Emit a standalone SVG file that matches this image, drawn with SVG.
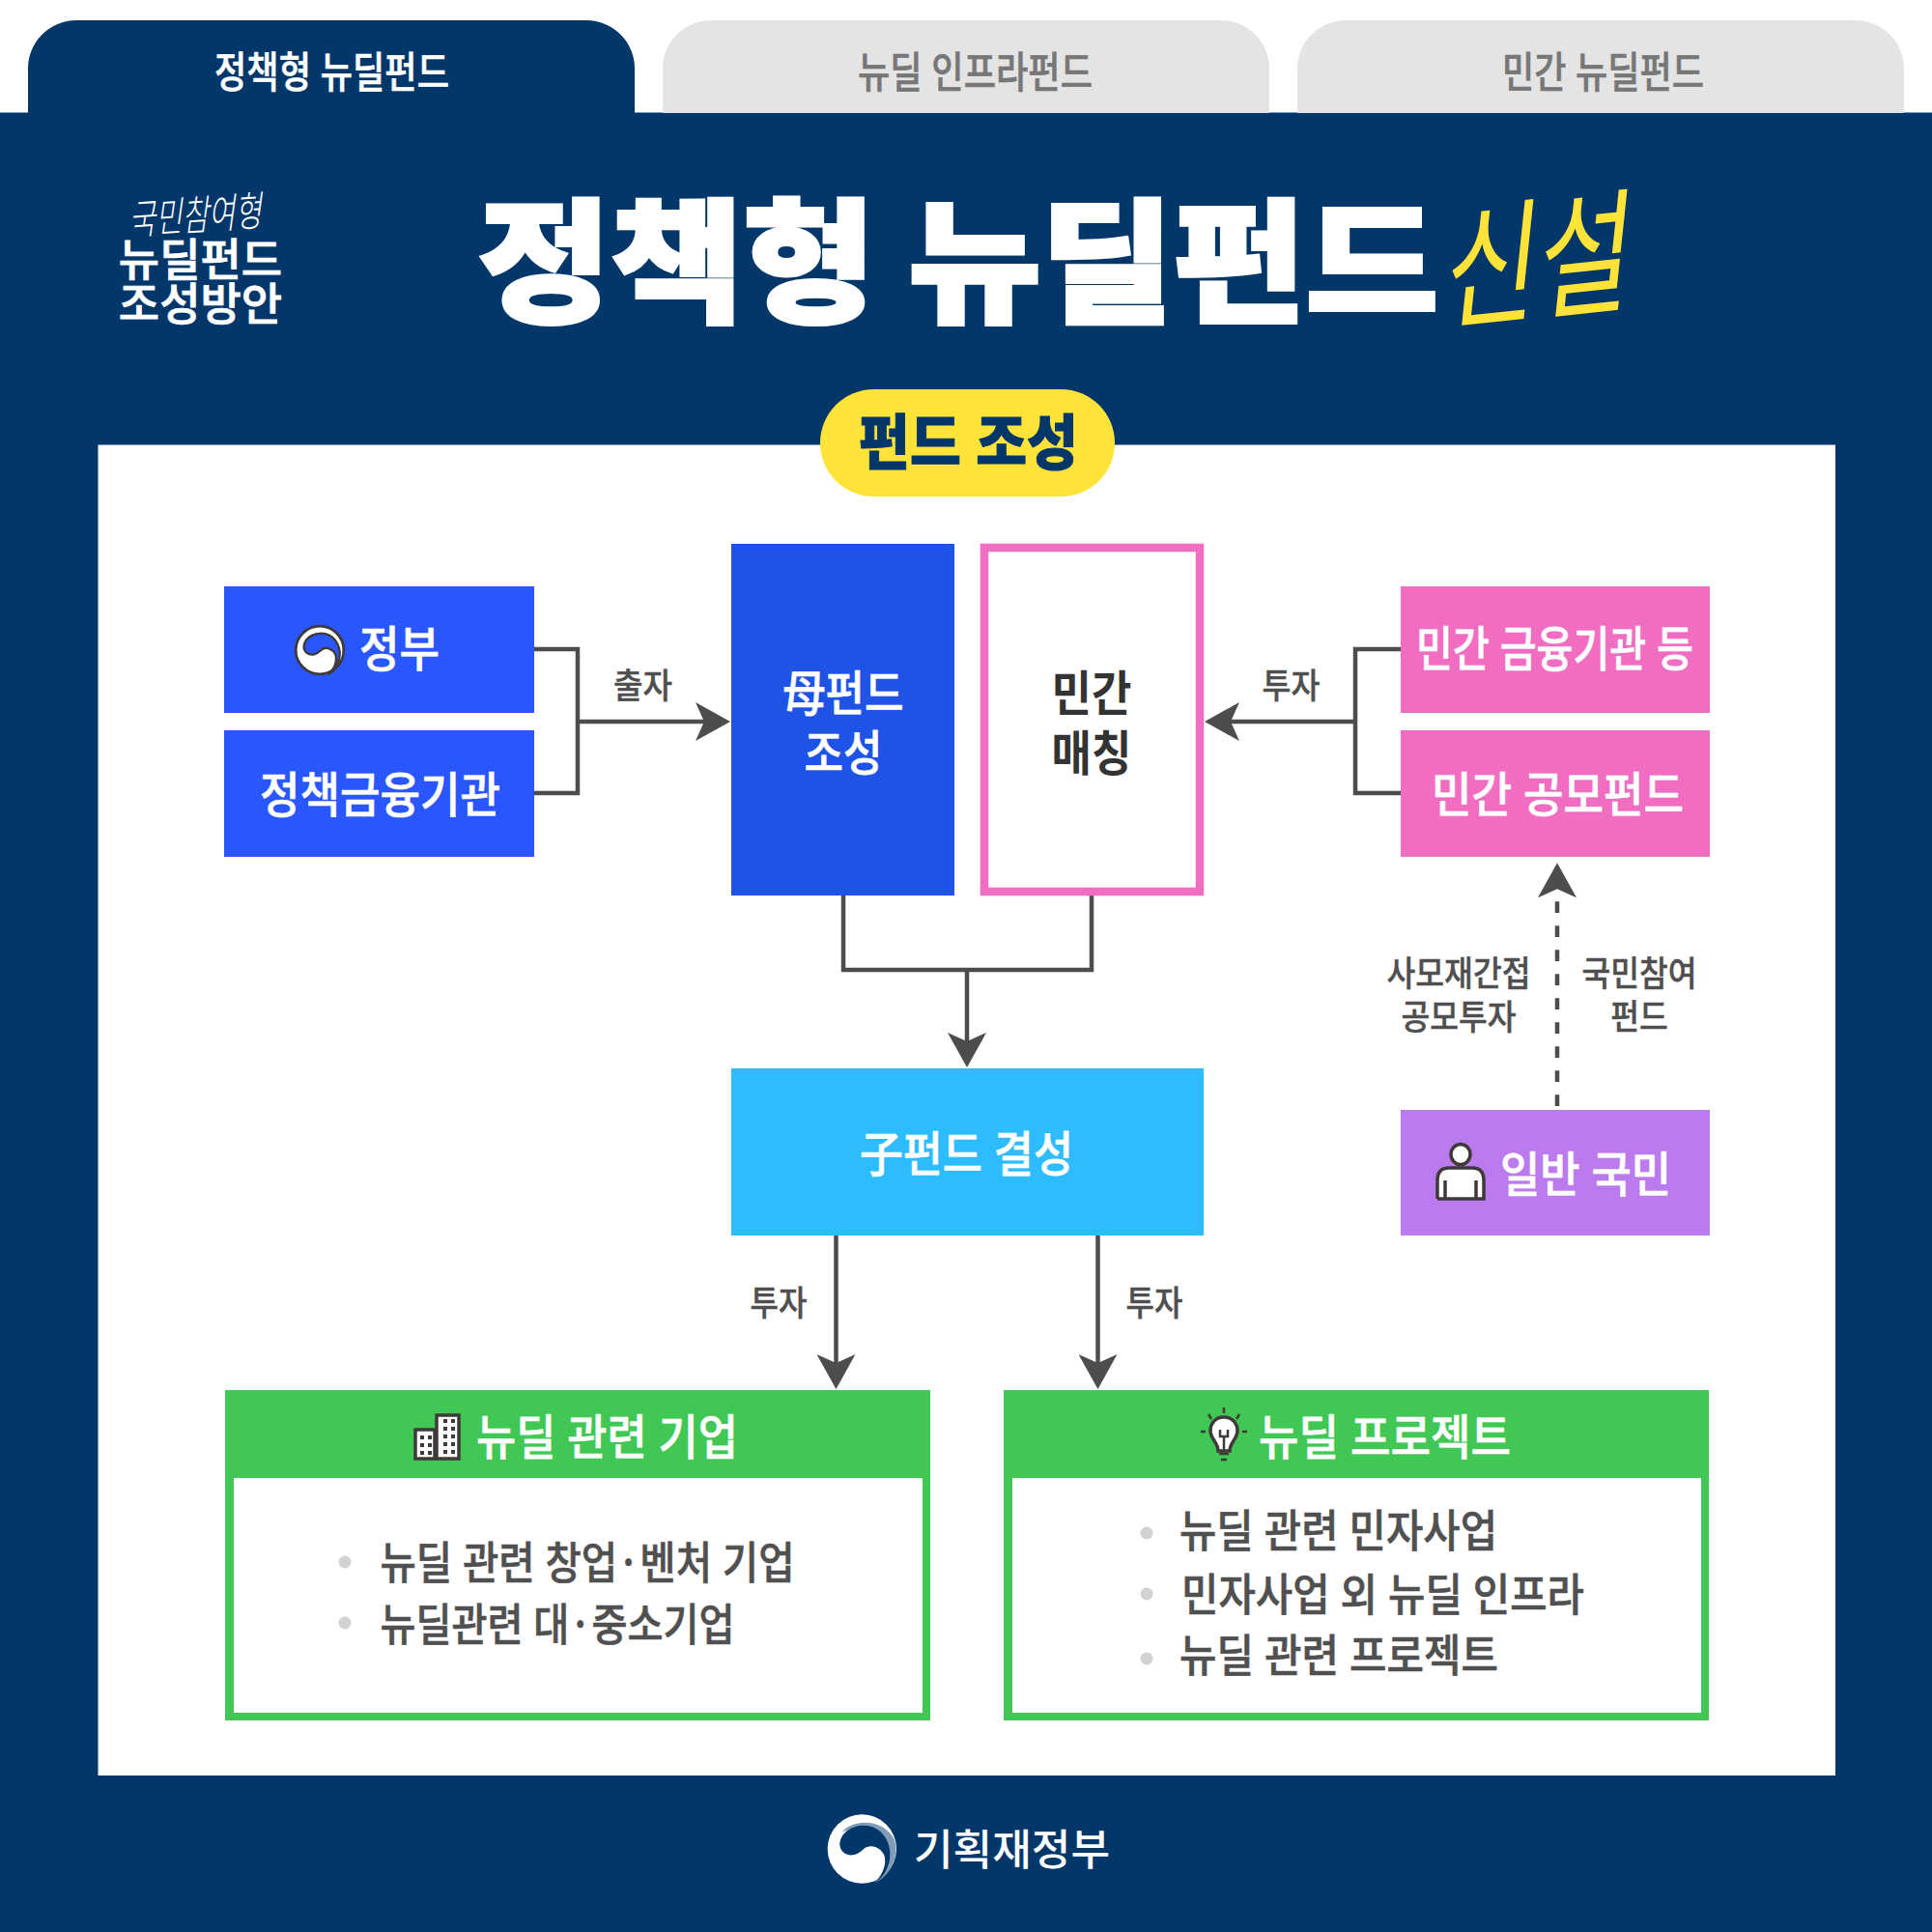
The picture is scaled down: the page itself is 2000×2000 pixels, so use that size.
<svg xmlns="http://www.w3.org/2000/svg" width="2000" height="2000" viewBox="0 0 2000 2000">
<style>
text{font-family:"Noto Sans CJK KR","Noto Sans",sans-serif;word-spacing:.04em}
.w{fill:#fff;stroke:#fff}
.lab{font-size:36px;font-weight:500;fill:#4f4f4f;stroke:#4f4f4f;stroke-width:.4}
.node{font-size:50px;font-weight:500;fill:#fff;stroke:#fff;stroke-width:.7}
.li{font-size:46px;font-weight:500;fill:#505050;stroke:#505050;stroke-width:.6}
.tab{font-size:44px;font-weight:500;stroke-width:.6}
.gt{fill:#777;stroke:#777}
.c{fill:none;stroke:#4d4d4d;stroke-width:4.5}
.dot{fill:#d2d2d2}
.ic{fill:#fff;stroke:#3f3a3a;stroke-width:3.5}
</style>
<defs>
<marker id="arrow" markerUnits="userSpaceOnUse" viewBox="0 0 36 40" refX="26" refY="20" markerWidth="36" markerHeight="40" orient="auto"><path d="M0 0L36 20L0 40L9 20Z" fill="#4d4d4d"/></marker>
<marker id="arrowGap" markerUnits="userSpaceOnUse" viewBox="0 0 36 40" refX="-4" refY="20" markerWidth="36" markerHeight="40" orient="auto"><path d="M0 0L36 20L0 40L9 20Z" fill="#4d4d4d"/></marker>
<path id="swirl" d="M148 178C150 135 200 110 245 122C290 135 310 185 303 225C297 260 278 285 255 298C280 275 292 245 288 218C282 190 245 172 222 192C205 210 180 218 162 205C152 197 148 188 148 178Z"/>
</defs>
<rect width="2000" height="2000" fill="#fff"/>
<rect id="background" y="116.500" width="2000" height="1883.500" fill="#03376a"/>
<g id="tab-policy"><path d="M29 117V72A50 50 0 0 1 79 21H607A50 50 0 0 1 657 72V117Z" fill="#03376a"/><text class="tab w" x="222" y="91" textLength="243" lengthAdjust="spacingAndGlyphs">정책형 뉴딜펀드</text></g>
<g id="tab-infra"><path d="M686 117V72A50 50 0 0 1 736 21H1264A50 50 0 0 1 1314 72V117Z" fill="#e4e4e4"/><text class="tab gt" x="888" y="91" textLength="243" lengthAdjust="spacingAndGlyphs">뉴딜 인프라펀드</text></g>
<g id="tab-private"><path d="M1343 117V72A50 50 0 0 1 1393 21H1921A50 50 0 0 1 1971 72V117Z" fill="#e4e4e4"/><text class="tab gt" x="1555" y="91" textLength="209" lengthAdjust="spacingAndGlyphs">민간 뉴딜펀드</text></g>
<g id="header">
<text transform="translate(134 243) rotate(-4) skewX(-12) scale(.88 1.25)" font-size="34" font-weight="300" fill="#fff">국민참여형</text>
<text transform="translate(207.500 0)" text-anchor="middle" font-size="46" font-weight="500" fill="#fff" stroke="#fff" stroke-width=".8"><tspan x="0" y="285">뉴딜펀드</tspan><tspan x="0" y="331">조성방안</tspan></text>
<text x="495" y="322" font-size="138" font-weight="900" fill="#fff" stroke="#fff" stroke-width="4" textLength="994" lengthAdjust="spacingAndGlyphs" style="word-spacing:0">정책형 뉴딜펀드</text>
<text transform="translate(1492 331) rotate(-6) skewX(-12) scale(.98 1.28)" font-size="108" font-weight="400" fill="#ffe338">신설</text>
</g>
<rect id="panel" x="101.500" y="460.500" width="1798.500" height="1377.500" fill="#fff"/>
<g id="badge"><rect x="849" y="403" width="305" height="111" rx="55.500" fill="#ffe338"/><text x="889" y="481" font-size="62" font-weight="900" fill="#03376a" stroke="#03376a" stroke-width="1" textLength="227" lengthAdjust="spacingAndGlyphs">펀드 조성</text></g>
<g id="connectors">
<path class="c" d="M553 672H598V821H553"/><path class="c" d="M598 747H746" marker-end="url(#arrow)"/>
<path class="c" d="M1450 672H1403V821H1450"/><path class="c" d="M1403 747H1257" marker-end="url(#arrow)"/>
<path class="c" d="M873 927V1004H1130V927"/><path class="c" d="M1001 1004V1095" marker-end="url(#arrow)"/>
<path class="c" d="M865.500 1279V1428" marker-end="url(#arrow)"/><path class="c" d="M1136.500 1279V1428" marker-end="url(#arrow)"/>
<path class="c" d="M1612 1145V933.300" stroke-dasharray="11.7 13.3" marker-end="url(#arrowGap)"/>
<text class="lab" x="635" y="723" textLength="61" lengthAdjust="spacingAndGlyphs">출자</text>
<text class="lab" x="1306.500" y="723" textLength="60" lengthAdjust="spacingAndGlyphs">투자</text>
<text class="lab" x="776.500" y="1362" textLength="59" lengthAdjust="spacingAndGlyphs">투자</text>
<text class="lab" x="1165.500" y="1362" textLength="59" lengthAdjust="spacingAndGlyphs">투자</text>
<text class="lab" text-anchor="middle" transform="translate(1510 0) scale(.9 1)"><tspan x="0" y="1021">사모재간접</tspan><tspan x="0" y="1066">공모투자</tspan></text>
<text class="lab" text-anchor="middle" transform="translate(1697 0) scale(.9 1)"><tspan x="0" y="1021">국민참여</tspan><tspan x="0" y="1066">펀드</tspan></text>
</g>
<g id="node-gov"><rect x="232" y="607" width="321" height="131" fill="#2a56ff"/>
<g transform="translate(331 673) scale(.276) translate(-217 -192)"><circle cx="217" cy="192" r="90" fill="#fff" stroke="#3f3a3a" stroke-width="10"/><use href="#swirl" fill="#2a56ff" stroke="#3f3a3a" stroke-width="10" transform="translate(217 192) scale(.86) translate(-217 -192)"/></g>
<text class="node" x="372" y="690" textLength="83" lengthAdjust="spacingAndGlyphs">정부</text></g>
<g id="node-policy-finance"><rect x="232" y="756" width="321" height="131" fill="#2a56ff"/><text class="node" x="269" y="841" textLength="249" lengthAdjust="spacingAndGlyphs">정책금융기관</text></g>
<g id="node-mother"><rect x="757" y="563" width="231" height="364" fill="#1f53e5"/><text class="node" text-anchor="middle" transform="translate(873 0) scale(.88 1)"><tspan x="0" y="736">母펀드</tspan><tspan x="0" y="798">조성</tspan></text></g>
<g id="node-matching"><rect x="1019" y="567" width="223" height="356" fill="#fff" stroke="#f06dc2" stroke-width="8.500"/><text text-anchor="middle" transform="translate(1130 0) scale(.9 1)" font-size="50" font-weight="700" fill="#333"><tspan x="0" y="736">민간</tspan><tspan x="0" y="798">매칭</tspan></text></g>
<g id="node-bank"><rect x="1450" y="607" width="320" height="131" fill="#f06dc2"/><text class="node" x="1466" y="690" textLength="287" lengthAdjust="spacingAndGlyphs">민간 금융기관 등</text></g>
<g id="node-public-fund"><rect x="1450" y="756" width="320" height="131" fill="#f06dc2"/><text class="node" x="1482" y="841" textLength="261" lengthAdjust="spacingAndGlyphs">민간 공모펀드</text></g>
<g id="node-citizen"><rect x="1450" y="1149" width="320" height="130" fill="#bb7aee"/>
<ellipse class="ic" cx="1512" cy="1195" rx="10" ry="10.500"/><path class="ic" d="M1488 1241V1222Q1488 1209 1500 1209H1524Q1536 1209 1536 1222V1241Z" style="stroke-dasharray:170 47"/><path class="ic" d="M1496 1222V1241M1528 1222V1241" fill="none"/>
<text class="node" x="1553" y="1234" textLength="177" lengthAdjust="spacingAndGlyphs">일반 국민</text></g>
<g id="node-child"><rect x="757" y="1106" width="489" height="173" fill="#2cbcff"/><text class="node" x="890" y="1213" textLength="221" lengthAdjust="spacingAndGlyphs">子펀드 결성</text></g>
<g id="node-companies"><rect x="233" y="1439" width="730" height="342" fill="#40c754"/><rect x="242" y="1530" width="713" height="243" fill="#fff"/>
<g class="ic" stroke-width="3"><rect x="430" y="1480" width="20" height="30"/><rect x="452" y="1465" width="23" height="45"/></g>
<g fill="#3f3a3a"><path d="M435 1486h4v4h-4zM443 1486h4v4h-4zM435 1494h4v4h-4zM443 1494h4v4h-4zM435 1502h4v4h-4zM443 1502h4v4h-4zM459 1469h4v4h-4zM467 1469h4v4h-4zM459 1477h4v4h-4zM467 1477h4v4h-4zM459 1485h4v4h-4zM467 1485h4v4h-4zM459 1493h4v4h-4zM467 1493h4v4h-4zM459 1501h4v4h-4zM467 1501h4v4h-4z"/></g>
<text class="node" x="493" y="1506" textLength="271" lengthAdjust="spacingAndGlyphs">뉴딜 관련 기업</text>
<circle class="dot" cx="357" cy="1617" r="6.500"/><circle class="dot" cx="357" cy="1680" r="6.500"/>
<text class="li" x="393.500" y="1634" textLength="429" lengthAdjust="spacingAndGlyphs">뉴딜 관련 창업·벤처 기업</text><text class="li" x="393.500" y="1698" textLength="367" lengthAdjust="spacingAndGlyphs">뉴딜관련 대·중소기업</text></g>
<g id="node-projects"><rect x="1039" y="1439" width="730" height="342" fill="#40c754"/><rect x="1048" y="1530" width="713" height="243" fill="#fff"/>
<path class="ic" d="M1267 1467C1257 1467 1253 1475 1253 1481C1253 1490 1261 1493 1261 1502H1273C1273 1493 1281 1490 1281 1481C1281 1475 1277 1467 1267 1467Z"/>
<path d="M1263 1480V1487H1271V1480M1267 1487V1502M1262 1505H1272M1264 1511H1270M1267 1457V1463M1251 1464L1254 1469M1283 1464L1280 1469M1243 1482H1248M1286 1482H1291" fill="none" stroke="#3f3a3a" stroke-width="2.500"/>
<text class="node" x="1303" y="1506" textLength="261" lengthAdjust="spacingAndGlyphs">뉴딜 프로젝트</text>
<circle class="dot" cx="1187" cy="1587" r="6.500"/><circle class="dot" cx="1187" cy="1650" r="6.500"/><circle class="dot" cx="1187" cy="1717" r="6.500"/>
<text class="li" x="1221" y="1601" textLength="329" lengthAdjust="spacingAndGlyphs">뉴딜 관련 민자사업</text><text class="li" x="1223" y="1667" textLength="417" lengthAdjust="spacingAndGlyphs">민자사업 외 뉴딜 인프라</text><text class="li" x="1221" y="1730" textLength="330" lengthAdjust="spacingAndGlyphs">뉴딜 관련 프로젝트</text></g>
<g id="footer">
<g transform="translate(820 1850) scale(.3333)"><circle cx="217" cy="192" r="107" fill="#fff"/><path d="M155 140C190 95 290 100 318 165C335 220 300 280 255 298C285 270 300 230 290 190C275 140 205 115 155 140Z" fill="#7f9cb8"/><use href="#swirl" fill="#03376a"/></g>
<text x="946" y="1931" font-size="44" font-weight="500" fill="#fff" textLength="203" lengthAdjust="spacingAndGlyphs">기획재정부</text></g>
</svg>
